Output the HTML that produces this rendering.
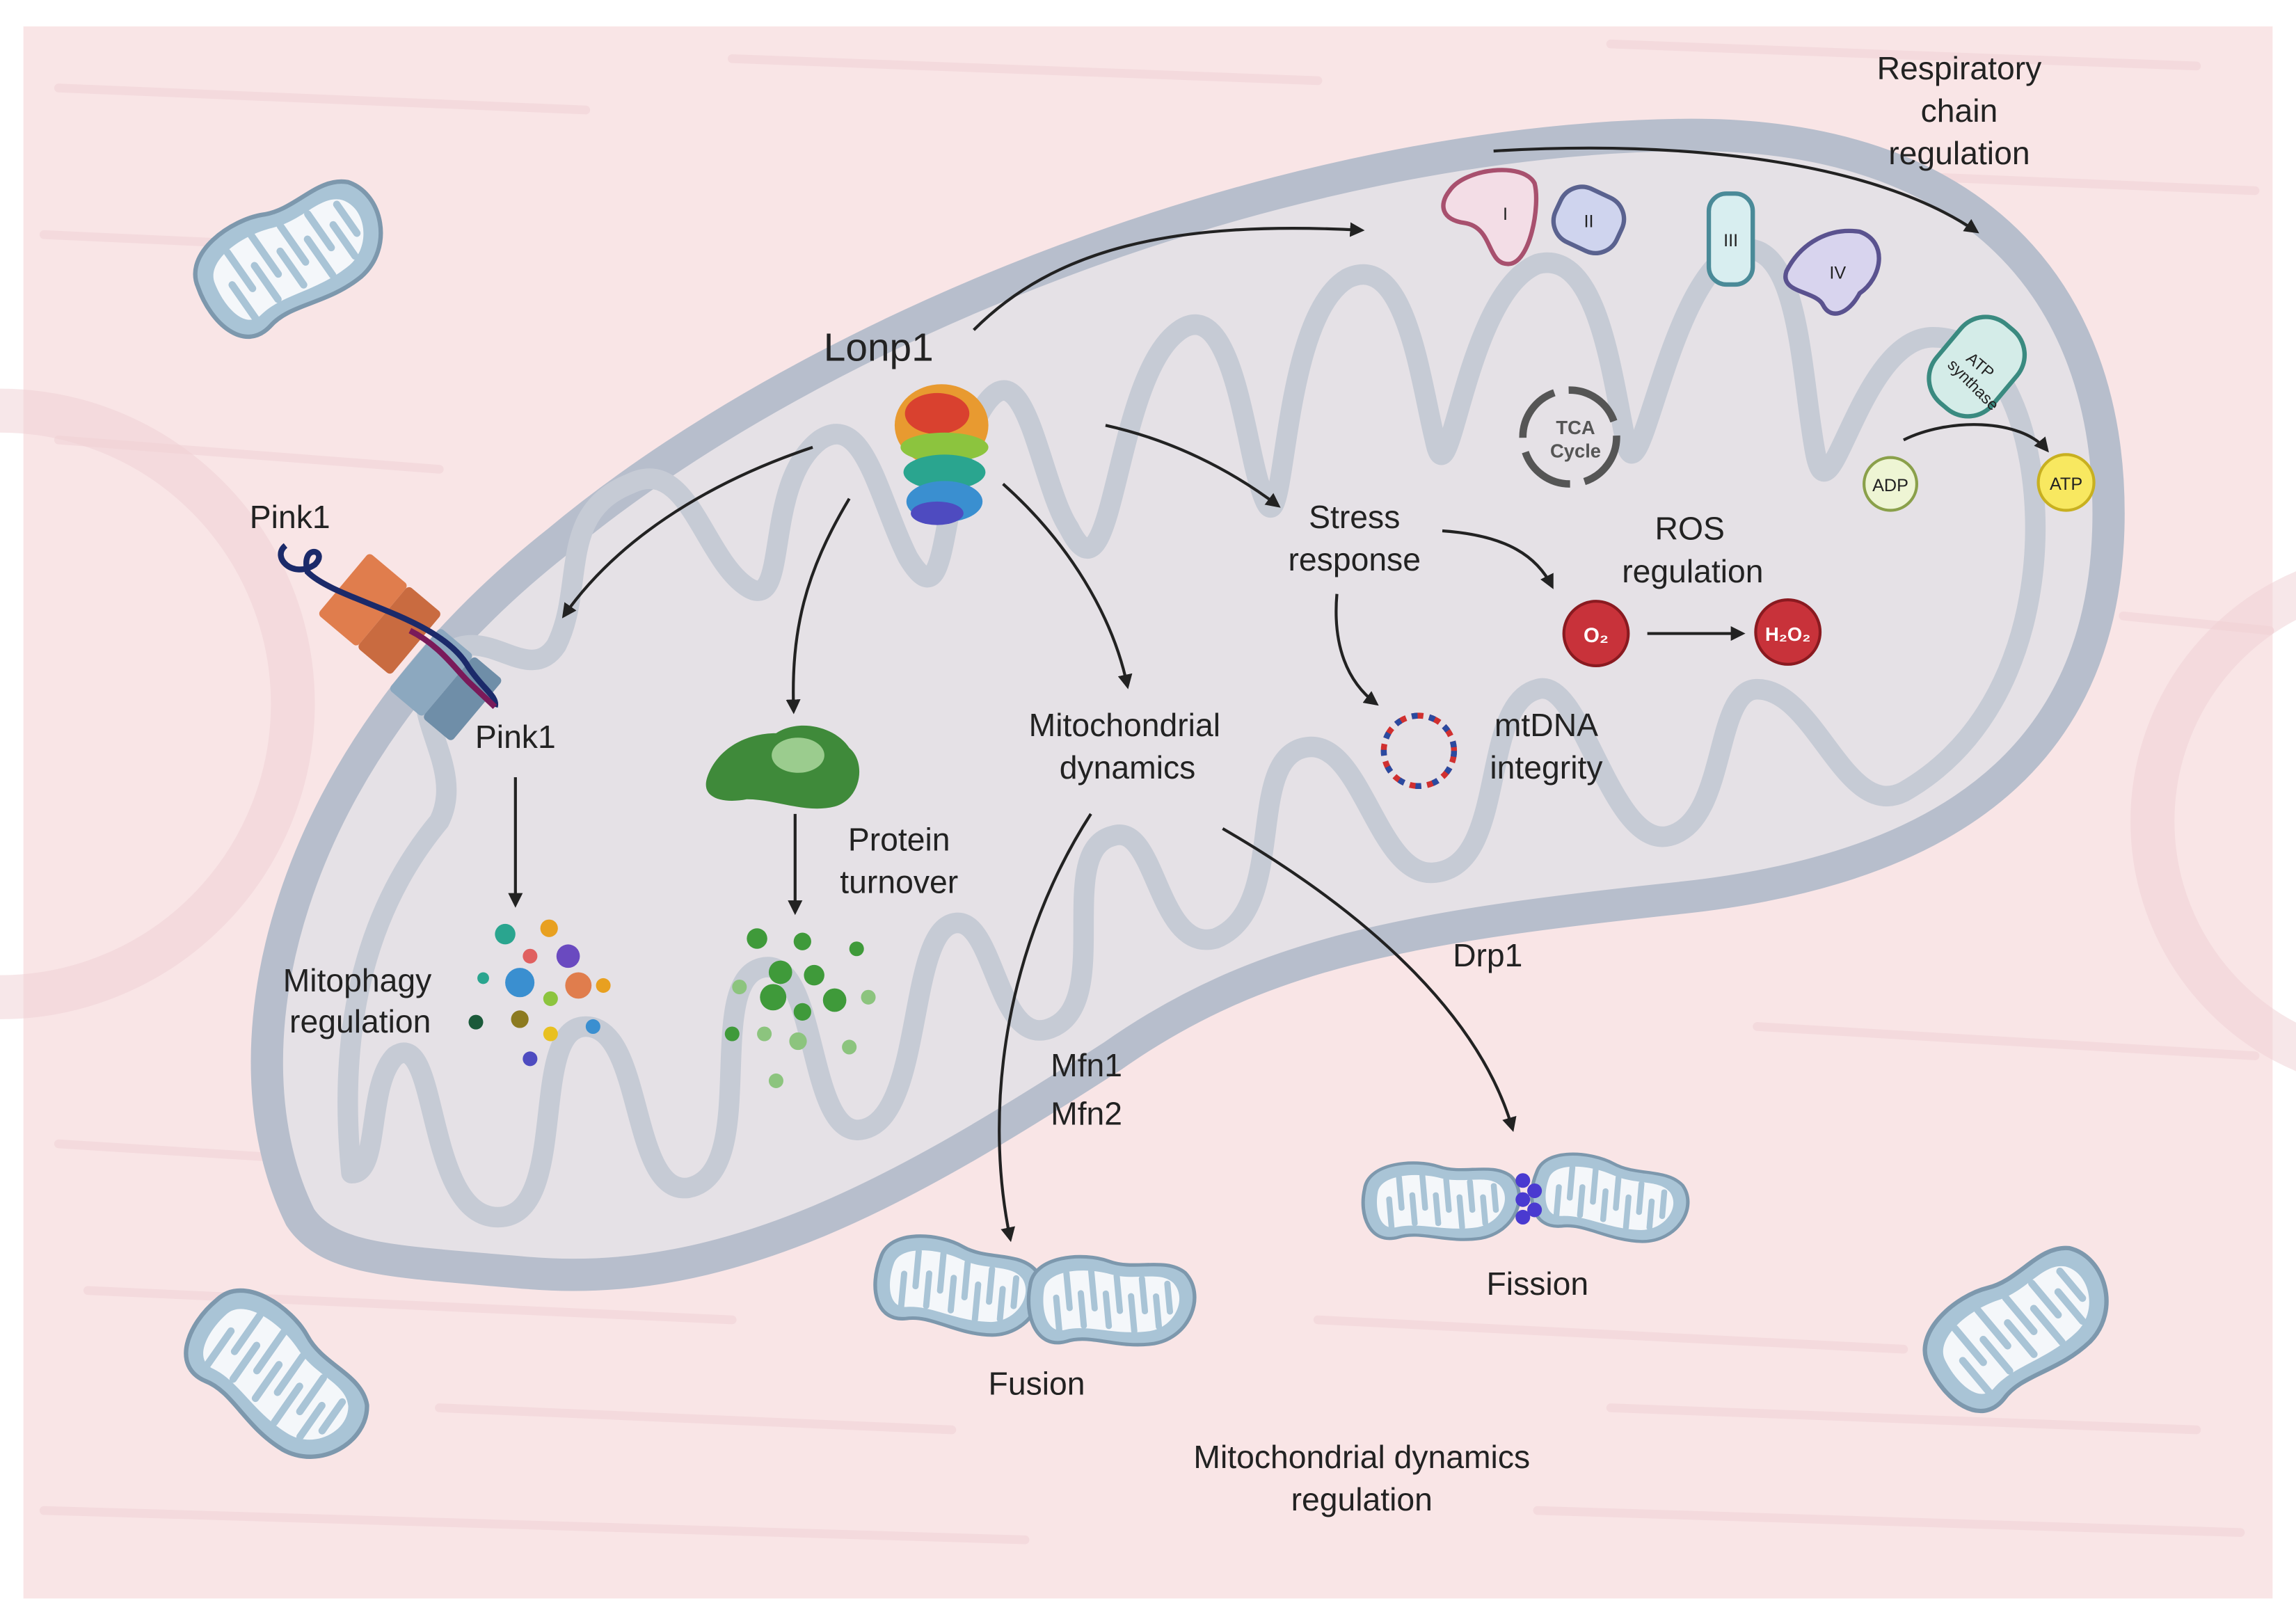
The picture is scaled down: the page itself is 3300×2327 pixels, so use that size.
<!DOCTYPE html>
<html><head><meta charset="utf-8"><style>
html,body{margin:0;padding:0;background:#fff;}
svg{display:block;}
text{font-family:"Liberation Sans",sans-serif;fill:#222;}
</style></head><body>
<svg width="3300" height="2327" viewBox="0 0 1568 1104" preserveAspectRatio="none" xmlns="http://www.w3.org/2000/svg">
<defs>
<marker id="ah" markerWidth="10" markerHeight="10" refX="8" refY="5" orient="auto" markerUnits="userSpaceOnUse"><path d="M0,0 L10,5 L0,10 Z" fill="#222"/></marker>
<g id="mito">
<path d="M-65,-20 C-60,-45 -20,-45 0,-35 C20,-25 45,-35 60,-20 C75,0 60,35 30,38 C0,40 -20,25 -40,30 C-65,35 -72,5 -65,-20Z" fill="#a9c4d6" stroke="#7d98ad" stroke-width="3"/>
<path d="M-54,-16 C-50,-32 -20,-32 0,-24 C20,-16 40,-24 50,-12 C60,2 48,25 28,27 C0,29 -20,17 -40,20 C-56,23 -58,0 -54,-16Z" fill="#f4f7fa"/>
<g stroke="#a9c4d6" stroke-width="5" stroke-linecap="round">
<line x1="-45" y1="20" x2="-45" y2="-8"/><line x1="-35" y1="-28" x2="-35" y2="2"/>
<line x1="-25" y1="18" x2="-25" y2="-10"/><line x1="-15" y1="-28" x2="-15" y2="4"/>
<line x1="-5" y1="20" x2="-5" y2="-8"/><line x1="5" y1="-22" x2="5" y2="8"/>
<line x1="15" y1="26" x2="15" y2="-4"/><line x1="25" y1="-18" x2="25" y2="10"/>
<line x1="35" y1="24" x2="35" y2="-2"/><line x1="45" y1="-12" x2="45" y2="12"/>
</g>
</g>
</defs>
<rect width="1568" height="1104" fill="#fff"/>
<rect x="16" y="18" width="1536" height="1072" fill="#f9e5e6"/>
<g stroke="#f3d8db" stroke-width="6" stroke-linecap="round" opacity="0.8">
<line x1="40" y1="60" x2="400" y2="75"/><line x1="500" y1="40" x2="900" y2="55"/><line x1="1100" y1="30" x2="1500" y2="45"/>
<line x1="30" y1="160" x2="250" y2="170"/><line x1="1300" y1="120" x2="1540" y2="130"/>
<line x1="40" y1="300" x2="300" y2="320"/><line x1="1450" y1="420" x2="1550" y2="430"/>
<line x1="40" y1="780" x2="200" y2="790"/><line x1="1200" y1="700" x2="1540" y2="720"/>
<line x1="60" y1="880" x2="500" y2="900"/><line x1="900" y1="900" x2="1300" y2="920"/>
<line x1="30" y1="1030" x2="700" y2="1050"/><line x1="1050" y1="1030" x2="1530" y2="1045"/>
<line x1="300" y1="960" x2="650" y2="975"/><line x1="1100" y1="960" x2="1500" y2="975"/>
</g>
<circle cx="0" cy="480" r="200" fill="none" stroke="#efd0d3" stroke-width="30" opacity="0.5"/>
<circle cx="1640" cy="560" r="170" fill="none" stroke="#efd0d3" stroke-width="30" opacity="0.5"/>

<use href="#mito" transform="translate(200,175) rotate(-35)"/>
<use href="#mito" transform="translate(190,940) rotate(35)"/>
<use href="#mito" transform="translate(1380,905) rotate(-40)"/>

<path d="M205,830 C150,720 190,520 380,370 C560,220 880,95 1150,92 C1350,90 1440,200 1440,350 C1440,500 1350,590 1150,612 C960,632 860,650 760,720 C620,810 500,880 360,868 C270,860 225,860 205,830Z" fill="#e5e1e6" stroke="#b7becc" stroke-width="22"/>
<path d="M240,800 C230,700 250,620 300,560 C320,520 270,480 300,450 C330,420 360,470 380,440 C400,400 380,350 430,330 C470,310 480,380 510,400 C540,420 520,330 560,300 C590,280 600,340 620,380 C650,430 640,330 670,280 C700,230 710,330 730,360 C760,420 760,270 800,230 C840,190 850,300 860,330 C880,400 870,220 920,190 C960,170 970,260 980,300 C990,350 1000,200 1050,180 C1090,170 1100,250 1110,300 C1120,350 1140,180 1190,170 C1230,165 1230,260 1240,310 C1250,360 1270,230 1320,230 C1370,230 1390,300 1390,360 C1390,420 1370,500 1300,540 C1260,560 1240,470 1200,470 C1170,470 1180,560 1140,570 C1100,580 1080,460 1050,470 C1010,480 1030,590 980,595 C940,600 930,500 890,510 C850,520 880,620 830,640 C790,650 790,560 760,570 C720,580 760,680 720,700 C680,720 680,620 650,630 C620,640 630,760 590,770 C550,780 560,650 520,660 C480,670 520,800 470,810 C430,815 440,700 400,700 C360,700 390,830 340,830 C290,830 300,700 270,720 C250,740 260,800 240,800Z" fill="none" stroke="#c6cbd5" stroke-width="14" stroke-linejoin="round"/>

<text x="1338" y="54" font-size="22" text-anchor="middle">Respiratory</text>
<text x="1338" y="83" font-size="22" text-anchor="middle">chain</text>
<text x="1338" y="112" font-size="22" text-anchor="middle">regulation</text>
<text x="600" y="246" font-size="27" text-anchor="middle">Lonp1</text>
<text x="198" y="360" font-size="22" text-anchor="middle">Pink1</text>
<text x="352" y="510" font-size="22" text-anchor="middle">Pink1</text>
<text x="925" y="360" font-size="22" text-anchor="middle">Stress</text>
<text x="925" y="389" font-size="22" text-anchor="middle">response</text>
<text x="1154" y="368" font-size="22" text-anchor="middle">ROS</text>
<text x="1156" y="397" font-size="22" text-anchor="middle">regulation</text>
<text x="768" y="502" font-size="22" text-anchor="middle">Mitochondrial</text>
<text x="770" y="531" font-size="22" text-anchor="middle">dynamics</text>
<text x="1056" y="502" font-size="22" text-anchor="middle">mtDNA</text>
<text x="1056" y="531" font-size="22" text-anchor="middle">integrity</text>
<text x="614" y="580" font-size="22" text-anchor="middle">Protein</text>
<text x="614" y="609" font-size="22" text-anchor="middle">turnover</text>
<text x="244" y="676" font-size="22" text-anchor="middle">Mitophagy</text>
<text x="246" y="704" font-size="22" text-anchor="middle">regulation</text>
<text x="1016" y="659" font-size="22" text-anchor="middle">Drp1</text>
<text x="742" y="734" font-size="22" text-anchor="middle">Mfn1</text>
<text x="742" y="767" font-size="22" text-anchor="middle">Mfn2</text>
<text x="1050" y="883" font-size="22" text-anchor="middle">Fission</text>
<text x="708" y="951" font-size="22" text-anchor="middle">Fusion</text>
<text x="930" y="1001" font-size="22" text-anchor="middle">Mitochondrial dynamics</text>
<text x="930" y="1030" font-size="22" text-anchor="middle">regulation</text>

<g fill="none" stroke="#222" stroke-width="2" marker-end="url(#ah)">
<path d="M665,225 C720,170 800,150 930,157"/>
<path d="M1020,103 C1150,95 1280,110 1350,158"/>
<path d="M555,305 C480,330 420,370 385,420"/>
<path d="M580,340 C550,390 540,430 542,485"/>
<path d="M685,330 C730,370 760,420 770,468"/>
<path d="M755,290 C800,300 840,320 873,345"/>
<path d="M985,362 C1030,365 1050,380 1060,400"/>
<path d="M913,405 C910,440 920,465 940,480"/>
<path d="M1125,432 L1190,432"/>
<path d="M352,530 L352,617"/>
<path d="M543,555 L543,622"/>
<path d="M745,555 C690,640 670,750 690,845"/>
<path d="M835,565 C930,620 1010,690 1033,770"/>
<path d="M1300,300 C1330,285 1380,285 1398,307"/>
</g>

<g>
<ellipse cx="643" cy="290" rx="32" ry="28" fill="#e89a30"/>
<ellipse cx="640" cy="282" rx="22" ry="14" fill="#d9412f"/>
<ellipse cx="645" cy="305" rx="30" ry="10" fill="#8cc43e"/>
<ellipse cx="645" cy="322" rx="28" ry="12" fill="#2aa58f"/>
<ellipse cx="645" cy="342" rx="26" ry="14" fill="#3a8fd0"/>
<ellipse cx="640" cy="350" rx="18" ry="8" fill="#4e4bc0"/>
</g>

<g transform="translate(275,435) rotate(40)">
<rect x="-55" y="-30" width="35" height="55" fill="#e07d4d" rx="3"/>
<rect x="-20" y="-30" width="30" height="55" fill="#c96b40" rx="3"/>
<rect x="15" y="-22" width="30" height="55" fill="#8ca8bf" rx="3"/>
<rect x="45" y="-22" width="26" height="55" fill="#6f8ea8" rx="3"/>
</g>
<path d="M195,372 C185,380 200,395 215,385 C225,375 205,370 210,390 C230,410 300,420 320,455 C330,470 340,475 338,482" fill="none" stroke="#1b2a6a" stroke-width="4"/>
<path d="M280,430 C300,440 310,455 320,465 L338,482" fill="none" stroke="#7a1a5a" stroke-width="4"/>

<g>
<circle cx="345" cy="637" r="7" fill="#2aa58f"/><circle cx="375" cy="633" r="6" fill="#e8a020"/>
<circle cx="388" cy="652" r="8" fill="#6a4ac0"/><circle cx="362" cy="652" r="5" fill="#e06060"/>
<circle cx="355" cy="670" r="10" fill="#3a8fd0"/><circle cx="395" cy="672" r="9" fill="#e07d4d"/>
<circle cx="376" cy="681" r="5" fill="#8cc43e"/><circle cx="330" cy="667" r="4" fill="#2aa58f"/>
<circle cx="412" cy="672" r="5" fill="#e8a020"/><circle cx="325" cy="697" r="5" fill="#1b5a3a"/>
<circle cx="355" cy="695" r="6" fill="#8c7a20"/><circle cx="376" cy="705" r="5" fill="#e8c020"/>
<circle cx="405" cy="700" r="5" fill="#3a8fd0"/><circle cx="362" cy="722" r="5" fill="#4e4bc0"/>
</g>

<path d="M483,530 C490,510 510,500 530,500 C545,490 570,495 580,510 C592,520 588,545 570,550 C550,555 530,545 510,545 C495,548 478,545 483,530Z" fill="#3f8a3a"/>
<ellipse cx="545" cy="515" rx="18" ry="12" fill="#9bcc8e"/>
<g fill="#3f9a3a">
<circle cx="517" cy="640" r="7"/><circle cx="548" cy="642" r="6"/><circle cx="585" cy="647" r="5"/>
<circle cx="533" cy="663" r="8"/><circle cx="556" cy="665" r="7"/><circle cx="505" cy="673" r="5" fill="#8cc47e"/>
<circle cx="528" cy="680" r="9"/><circle cx="570" cy="682" r="8"/><circle cx="593" cy="680" r="5" fill="#8cc47e"/>
<circle cx="548" cy="690" r="6"/><circle cx="500" cy="705" r="5"/><circle cx="522" cy="705" r="5" fill="#8cc47e"/>
<circle cx="545" cy="710" r="6" fill="#8cc47e"/><circle cx="580" cy="714" r="5" fill="#8cc47e"/><circle cx="530" cy="737" r="5" fill="#8cc47e"/>
</g>

<path d="M990,130 C1000,115 1040,110 1048,125 C1052,140 1045,180 1030,180 C1015,180 1020,155 1000,152 C985,150 982,140 990,130Z" fill="#f3dde6" stroke="#a8506e" stroke-width="3"/>
<text x="1028" y="150" font-size="12" text-anchor="middle">I</text>
<rect x="1062" y="130" width="46" height="40" rx="16" fill="#cfd4ee" stroke="#5a628f" stroke-width="3" transform="rotate(25 1085 150)"/>
<text x="1085" y="155" font-size="12" text-anchor="middle">II</text>
<rect x="1167" y="132" width="30" height="62" rx="12" fill="#d8eef0" stroke="#4a8a98" stroke-width="3"/>
<text x="1182" y="168" font-size="12" text-anchor="middle">III</text>
<path d="M1220,185 C1230,165 1250,155 1270,158 C1290,165 1285,190 1270,200 C1262,215 1250,218 1245,208 C1240,198 1215,200 1220,185Z" fill="#d8d4ee" stroke="#5a528f" stroke-width="3"/>
<text x="1255" y="190" font-size="12" text-anchor="middle">IV</text>
<rect x="1325" y="215" width="50" height="70" rx="22" fill="#d4ece8" stroke="#3a8a80" stroke-width="3" transform="rotate(40 1350 250)"/>
<text x="1350" y="252" font-size="11" text-anchor="middle" transform="rotate(40 1350 252)">ATP</text>
<text x="1345" y="265" font-size="11" text-anchor="middle" transform="rotate(45 1345 265)">synthase</text>

<circle cx="1291" cy="330" r="18" fill="#eef5d4" stroke="#8aa04a" stroke-width="2"/>
<text x="1291" y="335" font-size="12" text-anchor="middle">ADP</text>
<circle cx="1411" cy="329" r="19" fill="#f8e860" stroke="#c8b020" stroke-width="2"/>
<text x="1411" y="334" font-size="12" text-anchor="middle">ATP</text>

<circle cx="1072" cy="298" r="32" fill="none" stroke="#555" stroke-width="5" stroke-dasharray="40 10"/>
<text x="1076" y="296" font-size="13" text-anchor="middle" font-weight="bold" style="fill:#555">TCA</text>
<text x="1076" y="312" font-size="13" text-anchor="middle" font-weight="bold" style="fill:#555">Cycle</text>

<circle cx="1090" cy="432" r="22" fill="#c8323a" stroke="#8a1a20" stroke-width="2"/>
<text x="1090" y="438" font-size="14" text-anchor="middle" font-weight="bold" style="fill:#fff">O₂</text>
<circle cx="1221" cy="431" r="22" fill="#c8323a" stroke="#8a1a20" stroke-width="2"/>
<text x="1221" y="437" font-size="13" text-anchor="middle" font-weight="bold" style="fill:#fff">H₂O₂</text>

<circle cx="969" cy="512" r="24" fill="none" stroke="#d03030" stroke-width="4" stroke-dasharray="8 4"/>
<circle cx="969" cy="512" r="24" fill="none" stroke="#2a4aa0" stroke-width="4" stroke-dasharray="4 8"/>

<g transform="translate(985,820) rotate(-5)"><use href="#mito" transform="scale(0.8,0.7)"/></g>
<g transform="translate(1100,818) rotate(5)"><use href="#mito" transform="scale(0.8,0.7)"/></g>
<g fill="#4a3ad0"><circle cx="1040" cy="805" r="5"/><circle cx="1048" cy="812" r="5"/><circle cx="1040" cy="818" r="5"/><circle cx="1048" cy="825" r="5"/><circle cx="1040" cy="830" r="5"/></g>

<use href="#mito" transform="translate(655,878) scale(0.85,0.8) rotate(5)"/>
<use href="#mito" transform="translate(760,888) scale(0.85,0.8) rotate(-5)"/>
</svg>
</body></html>
